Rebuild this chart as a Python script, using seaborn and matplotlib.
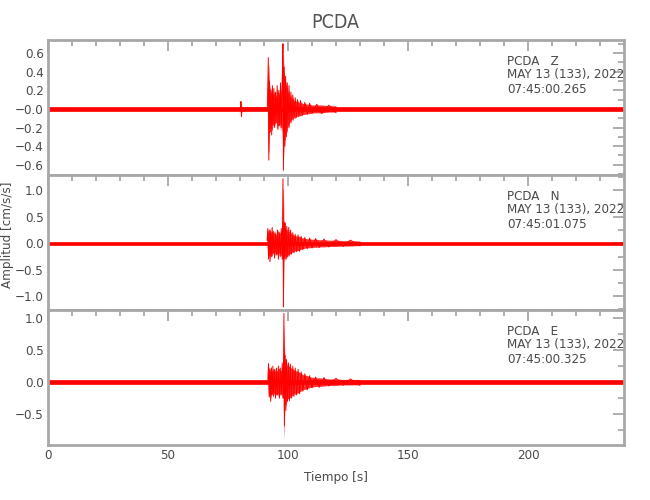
import matplotlib
matplotlib.use("Agg")
import matplotlib.pyplot as plt
import seaborn as sns
import numpy as np
from matplotlib.ticker import FixedLocator, MultipleLocator

# ---------------- data ----------------
components = ["Z", "N", "E"]
start_times = ["07:45:00.265", "07:45:01.075", "07:45:00.325"]
station = "PCDA"
date_label = "MAY 13 (133), 2022"

# background noise half-width of each trace (cm/s/s)
noise_hw = [0.022, 0.028, 0.028]
duration = [0, 240]

# successive peaks of each trace (time s, amplitude cm/s/s)
Z_t = [80.2, 80.4, 80.6, 80.8, 91.4, 91.8, 92.0, 92.3, 92.6, 92.9,
       93.2, 93.5, 93.8, 94.1, 94.4, 94.8, 95.1, 95.5, 95.8, 96.2,
       96.5, 96.9, 97.2, 97.6, 97.9, 98.1, 98.4, 98.7, 99.0, 99.3,
       99.7, 100.0, 100.4, 100.8, 101.2, 101.6, 102.0, 102.5, 103.0, 103.5,
       104.0, 104.6, 105.2, 106.0, 107.0, 108.0, 109.0, 110.0, 112.0, 114.0,
       117.0, 120.0]
Z_v = [0.01, 0.08, -0.08, 0.01, 0.01, 0.55, -0.55, 0.30, -0.25, 0.20,
       -0.28, 0.25, -0.18, 0.22, -0.20, 0.18, -0.15, 0.25, -0.22, 0.20,
       -0.18, 0.28, -0.20, 0.30, 0.70, -0.66, 0.45, -0.40, 0.35, -0.30,
       0.28, -0.20, 0.25, -0.15, 0.18, -0.12, 0.15, -0.10, 0.12, -0.09,
       0.10, -0.08, 0.09, -0.07, 0.07, -0.06, 0.06, -0.05, 0.05, -0.05,
       0.04, -0.04]

N_t = [91.3, 91.6, 91.9, 92.2, 92.5, 92.8, 93.1, 93.4, 93.7, 94.0,
       94.4, 94.8, 95.2, 95.6, 96.0, 96.4, 96.8, 97.2, 97.6, 97.9,
       98.1, 98.3, 98.6, 98.9, 99.2, 99.5, 99.9, 100.3, 100.7, 101.1,
       101.5, 102.0, 102.5, 103.0, 103.6, 104.2, 104.8, 105.5, 106.2, 107.0,
       108.0, 109.0, 110.0, 111.5, 113.0, 115.0, 117.0, 120.0, 123.0, 126.0,
       130.0]
N_v = [0.05, 0.28, -0.30, 0.25, -0.35, 0.22, -0.25, 0.30, -0.20, 0.22,
       -0.28, 0.18, -0.22, 0.25, -0.30, 0.20, -0.25, 0.28, -0.30, 1.22,
       -1.20, 0.40, -0.28, 0.38, -0.30, 0.32, -0.25, 0.30, -0.22, 0.25,
       -0.20, 0.20, -0.18, 0.17, -0.16, 0.16, -0.15, 0.13, -0.12, 0.11,
       -0.10, 0.10, -0.09, 0.09, -0.08, 0.08, -0.07, 0.07, -0.06, 0.06,
       -0.05]

E_t = [91.6, 91.9, 92.2, 92.5, 92.8, 93.1, 93.4, 93.7, 94.0, 94.4,
       94.8, 95.2, 95.6, 96.0, 96.4, 96.8, 97.2, 97.6, 98.0, 98.3,
       98.5, 98.8, 99.1, 99.4, 99.8, 100.2, 100.6, 101.0, 101.5, 102.0,
       102.5, 103.0, 103.6, 104.2, 104.8, 105.5, 106.2, 107.0, 108.0, 109.0,
       110.0, 111.5, 113.0, 115.0, 117.0, 120.0, 123.0, 126.0, 130.0]
E_v = [0.04, 0.29, -0.23, 0.20, -0.30, 0.22, -0.20, 0.25, -0.22, 0.20,
       -0.25, 0.22, -0.20, 0.25, -0.25, 0.22, -0.20, 0.30, -0.25, 1.07,
       -0.68, 0.42, -0.44, 0.35, -0.30, 0.30, -0.29, 0.28, -0.25, 0.25,
       -0.22, 0.22, -0.20, 0.20, -0.18, 0.16, -0.14, 0.13, -0.12, 0.10,
       -0.09, 0.08, -0.08, 0.07, -0.06, 0.06, -0.05, 0.05, -0.05]

peaks_t = [Z_t, N_t, E_t]
peaks_v = [Z_v, N_v, E_v]

# axis ranges and tick labels
ylims = [(-0.71, 0.74), (-1.26, 1.29), (-0.98, 1.125)]
yticks = [[-0.6, -0.4, -0.2, 0.0, 0.2, 0.4, 0.6],
          [-1.0, -0.5, 0.0, 0.5, 1.0],
          [-0.5, 0.0, 0.5, 1.0]]
yticklabels = [["\u22120.6", "\u22120.4", "\u22120.2", "\u22120.0", "0.2", "0.4", "0.6"],
               ["\u22121.0", "\u22120.5", "0.0", "0.5", "1.0"],
               ["\u22120.5", "0.0", "0.5", "1.0"]]
yminor = [0.1, 0.25, 0.25]
xticks = [0, 50, 100, 150, 200]
xlim = (0, 240)

# ---------------- drawing ----------------
sns.set_style("white")
plt.rcParams["font.family"] = ["DejaVu Sans"]
plt.rcParams["font.stretch"] = "condensed"
plt.rcParams["font.weight"] = "light"

grey = "#a8a8a8"
txt = "#4a4a4a"
fs = 9.5
fig = plt.figure(figsize=(6.5, 5.0), dpi=100)

left, width = 48 / 650, 576 / 650
tops_px = [40, 175, 310]
h_px = 135
axes = []
for i in range(3):
    bottom = 1 - (tops_px[i] + h_px) / 500
    ax = fig.add_axes([left, bottom, width, h_px / 500])
    axes.append(ax)

    hw = noise_hw[i]
    ax.fill_between(duration, [-hw, -hw], [hw, hw], color="red", lw=0.5, zorder=2)
    env = np.abs(np.asarray(peaks_v[i]))
    ax.fill_between(peaks_t[i], -0.85 * env, 0.85 * env, color="red", alpha=0.8,
                    lw=0, zorder=2)
    sns.lineplot(x=peaks_t[i], y=peaks_v[i], sort=False, estimator=None,
                 color="red", lw=0.7, ax=ax, zorder=3)

    ax.set_xlim(*xlim)
    ax.set_ylim(*ylims[i])
    ax.yaxis.set_major_locator(FixedLocator(yticks[i]))
    ax.set_yticklabels(yticklabels[i])
    ax.yaxis.set_minor_locator(MultipleLocator(yminor[i]))
    ax.xaxis.set_major_locator(FixedLocator(xticks))
    ax.xaxis.set_minor_locator(MultipleLocator(10))
    if i < 2:
        ax.set_xticklabels([])
    else:
        ax.set_xticklabels([str(v) for v in xticks])

    ax.tick_params(which="both", direction="in", top=True, right=True,
                   color=grey, width=1.3, labelsize=fs, labelcolor=txt, pad=3)
    ax.tick_params(which="major", length=8)
    ax.tick_params(which="minor", length=4)
    for s in ax.spines.values():
        s.set_color(grey)
        s.set_linewidth(2)

    ys = [0.844, 0.741, 0.637]
    lines = [f"{station}   {components[i]}", date_label, start_times[i]]
    for y, s in zip(ys, lines):
        ax.text(0.797, y, s, transform=ax.transAxes, fontsize=fs,
                color=txt, ha="left", va="center")

axes[2].set_xlabel("Tiempo [s]", fontsize=fs, color=txt, labelpad=6)
fig.text(0.011, 0.53, "Amplitud [cm/s/s]", rotation=90, fontsize=fs,
         color=txt, ha="center", va="center")
fig.text(0.516, 0.955, station, fontsize=14, color="#555555",
         ha="center", va="center")

fig.savefig("out.png", dpi=100)
